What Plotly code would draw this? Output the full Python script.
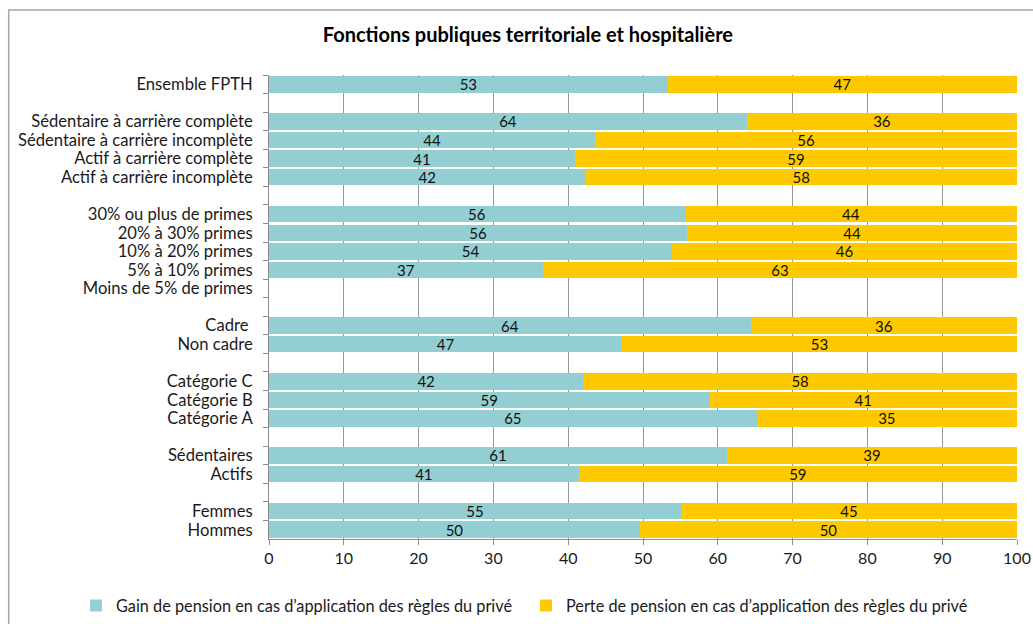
import plotly.graph_objects as go

categories = [
    "Ensemble FPTH",
    " ",
    "Sédentaire à carrière complète",
    "Sédentaire à carrière incomplète",
    "Actif à carrière complète",
    "Actif à carrière incomplète",
    "  ",
    "30% ou plus de primes",
    "20% à 30% primes",
    "10% à 20% primes",
    "5% à 10% primes",
    "Moins de 5% de primes",
    "   ",
    "Cadre ",
    "Non cadre",
    "    ",
    "Catégorie C",
    "Catégorie B",
    "Catégorie A",
    "     ",
    "Sédentaires",
    "Actifs",
    "      ",
    "Femmes",
    "Hommes",
]

gain = [53.3, None, 63.9, 43.6, 40.9, 42.3, None, 55.6, 55.9, 53.9, 36.6, None, None,
        64.4, 47.2, None, 42.0, 58.9, 65.2, None, 61.2, 41.4, None, 55.1, 49.6]
perte = [46.7, None, 36.1, 56.4, 59.1, 57.7, None, 44.4, 44.1, 46.1, 63.4, None, None,
         35.6, 52.8, None, 58.0, 41.1, 34.8, None, 38.8, 58.6, None, 44.9, 50.4]

series_names = [
    "Gain de pension en cas d\u2019application des règles du privé",
    "Perte de pension en cas d\u2019application des règles du privé",
]
title_text = "Fonctions publiques territoriale et hospitalière"
x_ticks = [0, 10, 20, 30, 40, 50, 60, 70, 80, 90, 100]

FONT = "Lato"
teal = "#93CFD2"
yellow = "#FFC900"

fig = go.Figure()
for vals, name, col, lg in [(gain, series_names[0], teal, "legend"),
                            (perte, series_names[1], yellow, "legend2")]:
    fig.add_trace(go.Bar(
        y=categories, x=vals, name=name, orientation="h", legend=lg,
        marker=dict(color=col, line=dict(width=0)),
        texttemplate="%{x:.0f}", textposition="inside", insidetextanchor="middle",
        textangle=0,
        textfont=dict(family=FONT, size=15, color="#111111"),
        constraintext="none", cliponaxis=False,
    ))

legend_font = dict(family=FONT, size=16.3, color="#1a1a1a")
fig.update_layout(
    barmode="stack",
    bargap=0.11,
    width=1033, height=624,
    margin=dict(l=269, r=15.5, t=75, b=84.5, autoexpand=False),
    paper_bgcolor="white", plot_bgcolor="white",
    font=dict(family=FONT, size=16, color="#1a1a1a"),
    title=dict(text="<b>" + title_text + "</b>", x=0.511, xref="container", xanchor="center",
               y=1 - 35 / 624, yref="container", yanchor="middle",
               font=dict(family=FONT, size=20, color="#000000")),
    legend=dict(orientation="h", x=76 / 1033, xref="container", xanchor="left",
                y=1 - 606 / 624, yref="container", yanchor="middle",
                font=legend_font, bgcolor="rgba(0,0,0,0)"),
    legend2=dict(orientation="h", x=526 / 1033, xref="container", xanchor="left",
                 y=1 - 606 / 624, yref="container", yanchor="middle",
                 font=legend_font, bgcolor="rgba(0,0,0,0)"),
    showlegend=True,
    uniformtext=dict(mode=False),
)

fig.update_xaxes(
    range=[0, 100], tickvals=x_ticks, showgrid=True, gridcolor="#969696", gridwidth=1,
    showline=True, linecolor="#8c8c8c", linewidth=1,
    ticks="outside", ticklen=5, tickcolor="#8c8c8c",
    tickfont=dict(family=FONT, size=16, color="#1a1a1a"), zeroline=False,
    automargin=False,
)
fig.update_yaxes(
    type="category", categoryorder="array", categoryarray=categories,
    autorange="reversed", showgrid=False,
    tickmode="linear", tick0=0, dtick=1,
    showline=True, linecolor="#8c8c8c", linewidth=1,
    ticks="outside", ticklen=5, tickcolor="#8c8c8c", tickson="boundaries",
    tickfont=dict(family=FONT, size=16.6, color="#1a1a1a"),
    ticklabelstandoff=12, automargin=False,
)

# outer chart frame
fig.add_shape(type="rect", xref="paper", yref="paper",
              x0=-0.348, x1=1.2, y0=-0.4, y1=1.14,
              line=dict(color="#a6a6a6", width=1.5), fillcolor="rgba(0,0,0,0)", layer="below")

fig.write_html("out.html", post_script="document.body.style.margin='0';",
               config={"displayModeBar": False})
